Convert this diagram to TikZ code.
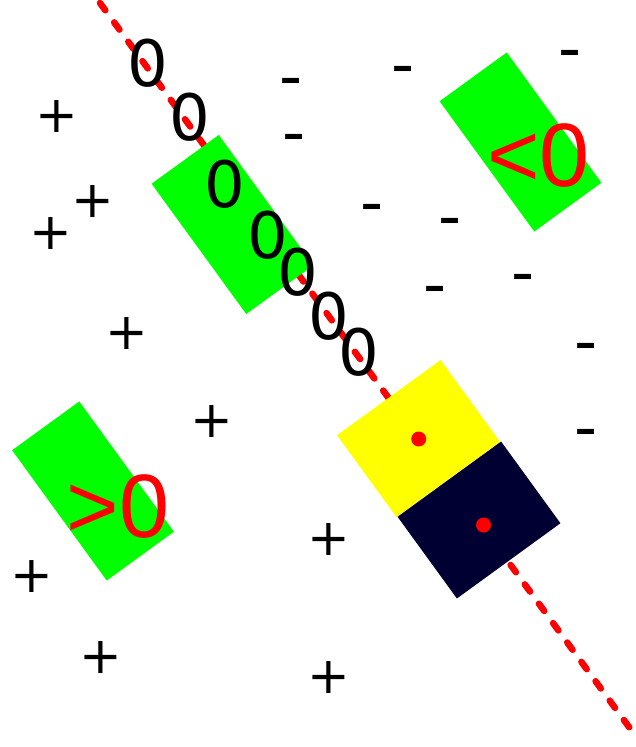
\documentclass[tikz,border=0pt]{standalone}
\usepackage{fontspec}
\setmainfont{DejaVu Sans}
\newfontfamily\libsans{Liberation Sans}
\definecolor{gr}{RGB}{0,255,0}
\definecolor{navy}{RGB}{0,0,51}
\definecolor{yel}{RGB}{255,255,0}
\tikzset{
  gbox/.style={fill=gr, minimum width=161pt, minimum height=83pt, rotate=-54, inner sep=0pt},
  sqbox/.style={minimum width=101pt, minimum height=128pt, rotate=-54, inner sep=0pt},
  zsym/.style={font=\fontsize{64}{64}\selectfont, inner sep=0pt, text height=46.7pt, text depth=0pt},
  psym/.style={font=\fontsize{51}{51}\selectfont, inner sep=0pt, text height=32pt, text depth=0pt},
  hyph/.style={font=\fontsize{64}{64}\selectfont, inner sep=0pt, text height=35.3pt, text depth=0pt},
  big/.style={font=\libsans\fontsize{90}{90}\selectfont, text=red, inner sep=0pt, text height=64.4pt, text depth=0pt},
  rdot/.style={circle, fill=red, minimum size=15pt, inner sep=0pt},
  sepline/.style={red, line width=6.5pt, dash pattern=on 9pt off 15pt, line cap=round}
}
\begin{document}
\begin{tikzpicture}[x=1pt,y=-1pt]
\useasboundingbox (0,0) rectangle (636,747);
% separating line
\coordinate (ls) at (100,3);
\coordinate (le) at (636,736.6);
\draw[sepline] (ls) -- (le);
% green boxes
\node[gbox] (g1) at (232.5,224.5) {};
\node[gbox] (g2) at (520.5,142) {};
\node[gbox] (g3) at (93,491) {};
% yellow and navy squares
\node[sqbox, fill=yel] (ys) at (418.5,438.5) {};
\node[sqbox, fill=navy] (ns) at (479,520) {};
\node[rdot] (d1) at (418.7,439) {};
\node[rdot] (d2) at (483.5,525) {};
% zeros on the line
\node[zsym] (z1) at (148,63) {0};
\node[zsym] (z2) at (190,117) {0};
\node[zsym] (z3) at (225,184) {0};
\node[zsym] (z4) at (268,235) {0};
\node[zsym] (z5) at (298,272) {0};
\node[zsym] (z6) at (329,316) {0};
\node[zsym] (z7) at (359,352) {0};
% plus signs
\node[psym] (p1) at (57,116) {+};
\node[psym] (p2) at (93,201) {+};
\node[psym] (p3) at (51,233) {+};
\node[psym] (p4) at (127,333) {+};
\node[psym] (p5) at (212,421) {+};
\node[psym] (p6) at (32,576) {+};
\node[psym] (p7) at (101,657) {+};
\node[psym] (p8) at (329,539) {+};
\node[psym] (p9) at (329,677) {+};
% minus signs
\node[hyph] (m1) at (291,81) {-};
\node[hyph] (m2) at (294,137) {-};
\node[hyph] (m3) at (403,69) {-};
\node[hyph] (m4) at (570,53) {-};
\node[hyph] (m5) at (372,207) {-};
\node[hyph] (m6) at (450,221) {-};
\node[hyph] (m7) at (523,277) {-};
\node[hyph] (m8) at (435,289) {-};
\node[hyph] (m9) at (586,346) {-};
\node[hyph] (m10) at (586,432) {-};
% labels
\node[big] (lt) at (538.5,154.5) {<0};
\node[big] (gt) at (118,505) {>0};
\end{tikzpicture}
\end{document}
